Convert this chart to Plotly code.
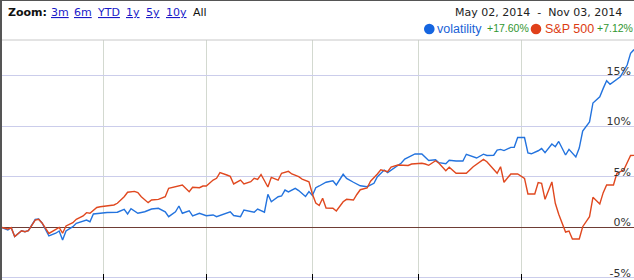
import plotly.graph_objects as go

# ---------------- data (percent change since May 02, 2014) ----------------
vol_dates = [
    "2014-05-02", "2014-05-03", "2014-05-04", "2014-05-05", "2014-05-06", "2014-05-08", "2014-05-09",
    "2014-05-10", "2014-05-12", "2014-05-13", "2014-05-14", "2014-05-16", "2014-05-18", "2014-05-19",
    "2014-05-20", "2014-05-21", "2014-05-23", "2014-05-24", "2014-05-26", "2014-05-27", "2014-05-28",
    "2014-05-29", "2014-05-31", "2014-06-02", "2014-06-05", "2014-06-07", "2014-06-08", "2014-06-09",
    "2014-06-11", "2014-06-13", "2014-06-15", "2014-06-17", "2014-06-19", "2014-06-20", "2014-06-22",
    "2014-06-23", "2014-06-24", "2014-06-26", "2014-06-27", "2014-06-29", "2014-07-01", "2014-07-03",
    "2014-07-04", "2014-07-06", "2014-07-08", "2014-07-09", "2014-07-11", "2014-07-12", "2014-07-14",
    "2014-07-15", "2014-07-16", "2014-07-18", "2014-07-19", "2014-07-20", "2014-07-22", "2014-07-23",
    "2014-07-24", "2014-07-25", "2014-07-27", "2014-07-28", "2014-07-30", "2014-07-31", "2014-08-01",
    "2014-08-02", "2014-08-03", "2014-08-05", "2014-08-07", "2014-08-08", "2014-08-10", "2014-08-11",
    "2014-08-13", "2014-08-15", "2014-08-17", "2014-08-19", "2014-08-20", "2014-08-22", "2014-08-23",
    "2014-08-25", "2014-08-27", "2014-08-28", "2014-08-30", "2014-08-31", "2014-09-02", "2014-09-03",
    "2014-09-04", "2014-09-06", "2014-09-07", "2014-09-09", "2014-09-10", "2014-09-12", "2014-09-14",
    "2014-09-15", "2014-09-17", "2014-09-18", "2014-09-20", "2014-09-21", "2014-09-23", "2014-09-24",
    "2014-09-25", "2014-09-26", "2014-09-28", "2014-09-29", "2014-09-30", "2014-10-02", "2014-10-03",
    "2014-10-04", "2014-10-06", "2014-10-07", "2014-10-08", "2014-10-10", "2014-10-11", "2014-10-12",
    "2014-10-14", "2014-10-15", "2014-10-17", "2014-10-18", "2014-10-19", "2014-10-21", "2014-10-22",
    "2014-10-24", "2014-10-25", "2014-10-26", "2014-10-27", "2014-10-29", "2014-10-30", "2014-11-01",
    "2014-11-02", "2014-11-03",
]
vol_values = [
    0.00, -0.17, -0.27, -0.04, -0.91, -0.34, -0.44,
    -0.34, 0.77, 0.82, 0.43, -0.86, -0.59, -0.37,
    -1.26, -0.37, 0.06, 0.40, 0.65, 0.72, 0.55,
    1.32, 1.39, 1.47, 1.49, 1.78, 1.32, 1.84,
    1.39, 1.54, 1.81, 1.88, 1.54, 1.05, 1.54,
    2.11, 1.39, 1.64, 1.12, 1.39, 1.15, 1.22,
    1.05, 1.27, 1.54, 1.17, 1.05, 1.71, 1.61,
    1.49, 1.81, 1.49, 3.27, 2.53, 3.03, 3.10,
    3.69, 3.50, 3.86, 3.64, 3.05, 3.54, 3.15,
    3.92, 4.09, 4.46, 4.61, 4.19, 5.25, 4.85,
    4.46, 4.11, 4.02, 4.36, 5.01, 5.67, 5.41,
    5.89, 6.37, 6.76, 7.11, 7.26, 7.26, 6.96,
    6.61, 6.69, 6.40, 6.29, 6.63, 6.56, 6.56,
    7.23, 6.93, 6.86, 7.24, 7.11, 7.14, 7.65,
    7.72, 7.60, 7.92, 7.92, 8.89, 8.89, 7.36,
    7.28, 7.58, 7.80, 7.39, 8.25, 7.98, 8.50,
    7.16, 7.72, 6.96, 7.85, 9.53, 10.43, 12.31,
    12.93, 13.76, 14.51, 14.16, 14.65, 14.91, 16.07,
    17.23, 17.60,
]

sp_dates = [
    "2014-05-02", "2014-05-03", "2014-05-04", "2014-05-05", "2014-05-06", "2014-05-08", "2014-05-09",
    "2014-05-10", "2014-05-12", "2014-05-13", "2014-05-14", "2014-05-16", "2014-05-18", "2014-05-19",
    "2014-05-20", "2014-05-21", "2014-05-23", "2014-05-24", "2014-05-26", "2014-05-27", "2014-05-28",
    "2014-05-30", "2014-05-31", "2014-06-02", "2014-06-04", "2014-06-05", "2014-06-07", "2014-06-08",
    "2014-06-10", "2014-06-11", "2014-06-12", "2014-06-14", "2014-06-15", "2014-06-17", "2014-06-19",
    "2014-06-20", "2014-06-22", "2014-06-24", "2014-06-26", "2014-06-27", "2014-06-29", "2014-06-30",
    "2014-07-01", "2014-07-03", "2014-07-04", "2014-07-05", "2014-07-07", "2014-07-08", "2014-07-09",
    "2014-07-11", "2014-07-12", "2014-07-14", "2014-07-15", "2014-07-16", "2014-07-17", "2014-07-19",
    "2014-07-20", "2014-07-22", "2014-07-23", "2014-07-25", "2014-07-26", "2014-07-28", "2014-07-29",
    "2014-07-31", "2014-08-01", "2014-08-02", "2014-08-03", "2014-08-04", "2014-08-05", "2014-08-07",
    "2014-08-08", "2014-08-10", "2014-08-11", "2014-08-13", "2014-08-14", "2014-08-15", "2014-08-17",
    "2014-08-18", "2014-08-20", "2014-08-21", "2014-08-23", "2014-08-24", "2014-08-26", "2014-08-29",
    "2014-08-30", "2014-09-02", "2014-09-03", "2014-09-04", "2014-09-06", "2014-09-07", "2014-09-09",
    "2014-09-10", "2014-09-12", "2014-09-15", "2014-09-17", "2014-09-18", "2014-09-20", "2014-09-21",
    "2014-09-23", "2014-09-24", "2014-09-25", "2014-09-26", "2014-09-28", "2014-09-30", "2014-10-02",
    "2014-10-03", "2014-10-05", "2014-10-06", "2014-10-07", "2014-10-08", "2014-10-10", "2014-10-11",
    "2014-10-12", "2014-10-14", "2014-10-15", "2014-10-16", "2014-10-18", "2014-10-19", "2014-10-21",
    "2014-10-22", "2014-10-24", "2014-10-25", "2014-10-26", "2014-10-28", "2014-10-29", "2014-10-31",
    "2014-11-02", "2014-11-03",
]
sp_values = [
    0.00, -0.12, -0.17, -0.04, -0.91, -0.34, -0.44,
    -0.34, 0.72, 0.79, 0.43, -0.61, -0.22, -0.02,
    -0.59, 0.13, 0.46, 0.79, 1.12, 1.45, 1.39,
    1.96, 2.04, 2.14, 2.21, 2.38, 3.03, 3.47,
    3.56, 3.43, 3.03, 2.44, 2.70, 2.77, 3.03,
    3.86, 4.02, 4.19, 3.52, 3.96, 3.92, 4.09,
    4.09, 4.68, 4.85, 5.41, 5.18, 5.04, 4.29,
    4.68, 4.29, 4.51, 4.85, 4.75, 5.23, 3.99,
    4.95, 4.68, 5.35, 5.54, 5.28, 5.01, 4.78,
    4.51, 3.30, 2.41, 2.16, 2.87, 1.91, 1.88,
    1.61, 2.53, 2.77, 2.70, 3.25, 3.72, 3.89,
    4.56, 5.28, 5.70, 5.50, 5.97, 6.17, 6.12,
    6.27, 6.34, 6.27, 6.14, 6.59, 6.34, 5.60,
    5.94, 5.35, 5.35, 6.00, 6.24, 6.73, 6.50,
    5.67, 5.35, 6.00, 4.46, 5.28, 5.28, 4.85,
    3.30, 3.30, 4.42, 4.36, 2.77, 4.49, 2.38,
    1.29, -0.47, -0.37, -1.16, -1.16, 0.06, 1.05,
    2.97, 2.31, 3.43, 4.19, 4.19, 5.35, 5.67,
    7.11, 7.12,
]

y_ticks = [-5, 0, 5, 10, 15]
y_tick_labels = ["-5%", "0%", "5%", "10%", "15%"]
series_names = ["volatility", "S&P 500"]
series_changes = ["+17.60%", "+7.12%"]
date_range_text = "May 02, 2014  -  Nov 03, 2014"
zoom_links = ["3m", "6m", "YTD", "1y", "5y", "10y"]

# ---------------- styling ----------------
W, H = 634, 280
ML, MR, MT, MB = 1, 0, 40, 0
PW, PH = W - ML - MR, H - MT - MB

BLUE = "#2373de"
RED = "#e0481f"
BLUE_TXT = "#1a62d6"
RED_TXT = "#dc3c12"
GREEN = "#2f962f"


def xp(px):
    return (px - ML) / PW


def yp(py):
    return 1 - (py - MT) / PH


fig = go.Figure()
fig.add_trace(go.Scatter(x=vol_dates, y=vol_values, mode="lines", name=series_names[0],
                         line=dict(color=BLUE, width=1.4), hoverinfo="skip"))
fig.add_trace(go.Scatter(x=sp_dates, y=sp_values, mode="lines", name=series_names[1],
                         line=dict(color=RED, width=1.4), hoverinfo="skip"))

annotations = []
# zoom bar
annotations.append(dict(text="<b>Zoom:</b>", x=xp(6), y=yp(13), xref="paper", yref="paper",
                        xanchor="left", yanchor="middle", showarrow=False,
                        font=dict(family="DejaVu Sans", size=11, color="#111")))
link_x = [49, 72, 95, 124, 144, 164]
for lbl, lx in zip(zoom_links, link_x):
    annotations.append(dict(text=f"<span style='text-decoration:underline'>{lbl}</span>",
                            x=xp(lx), y=yp(13), xref="paper", yref="paper",
                            xanchor="left", yanchor="middle", showarrow=False,
                            font=dict(family="DejaVu Sans", size=11, color="#1a1ac8")))
annotations.append(dict(text="All", x=xp(191), y=yp(13), xref="paper", yref="paper",
                        xanchor="left", yanchor="middle", showarrow=False,
                        font=dict(family="DejaVu Sans", size=11, color="#111")))
# date range
annotations.append(dict(text=date_range_text, x=xp(624), y=yp(13), xref="paper", yref="paper",
                        xanchor="right", yanchor="middle", showarrow=False,
                        font=dict(family="DejaVu Sans", size=11, color="#222")))
# legend row
leg_y = yp(29)
annotations.append(dict(text=series_names[0], x=xp(435), y=leg_y, xref="paper", yref="paper",
                        xanchor="left", yanchor="middle", showarrow=False,
                        font=dict(family="Liberation Sans", size=12.5, color=BLUE_TXT)))
annotations.append(dict(text=series_changes[0], x=xp(485), y=leg_y + 0.004, xref="paper", yref="paper",
                        xanchor="left", yanchor="middle", showarrow=False,
                        font=dict(family="Liberation Sans", size=10.5, color=GREEN)))
annotations.append(dict(text=series_names[1], x=xp(543), y=leg_y, xref="paper", yref="paper",
                        xanchor="left", yanchor="middle", showarrow=False,
                        font=dict(family="Liberation Sans", size=12.5, color=RED_TXT)))
annotations.append(dict(text=series_changes[1], x=xp(595), y=leg_y + 0.004, xref="paper", yref="paper",
                        xanchor="left", yanchor="middle", showarrow=False,
                        font=dict(family="Liberation Sans", size=10.5, color=GREEN)))

shapes = [
    # legend dots
    dict(type="circle", xref="paper", yref="paper", x0=xp(424), x1=xp(434.6), y0=yp(34.3), y1=yp(23.7),
         fillcolor="#1565e0", line=dict(width=0)),
    dict(type="circle", xref="paper", yref="paper", x0=xp(530.7), x1=xp(541.3), y0=yp(34.3), y1=yp(23.7),
         fillcolor="#e0401a", line=dict(width=0)),
    # plot-area top border
    dict(type="line", xref="paper", yref="paper", x0=0, x1=1, y0=1, y1=1,
         line=dict(color="#c8c8c8", width=1)),
    # outer chart borders (top and left)
    dict(type="line", xref="paper", yref="paper", x0=xp(0), x1=xp(634), y0=yp(0.5), y1=yp(0.5),
         line=dict(color="#555555", width=1)),
    dict(type="line", xref="paper", yref="paper", x0=xp(1), x1=xp(1), y0=yp(0), y1=yp(280),
         line=dict(color="#555555", width=2)),
]

fig.update_layout(
    width=W, height=H,
    margin=dict(l=ML, r=MR, t=MT, b=MB, pad=0),
    paper_bgcolor="white", plot_bgcolor="white",
    showlegend=False,
    annotations=annotations,
    shapes=shapes,
    xaxis=dict(
        type="date",
        range=["2014-05-02", "2014-11-03"],
        dtick="M1", tick0="2014-06-01",
        showgrid=True, gridcolor="#d3d9d0", gridwidth=1,
        ticks="inside", ticklen=6, tickcolor="#000", tickwidth=1,
        showticklabels=False, zeroline=False, showline=False,
        fixedrange=True,
    ),
    yaxis=dict(
        range=[-5.22, 18.55],
        side="right",
        tickvals=y_ticks, ticktext=y_tick_labels,
        ticklabelposition="inside",
        ticklabelshift=-5,
        tickfont=dict(family="DejaVu Sans", size=11, color="#333"),
        showgrid=True, gridcolor="#cbcdeb", gridwidth=1,
        zeroline=True, zerolinecolor="#6e3d35", zerolinewidth=1,
        ticks="", showline=False,
        fixedrange=True,
    ),
)

fig.write_html("out.html", config={"displayModeBar": False, "staticPlot": True})
